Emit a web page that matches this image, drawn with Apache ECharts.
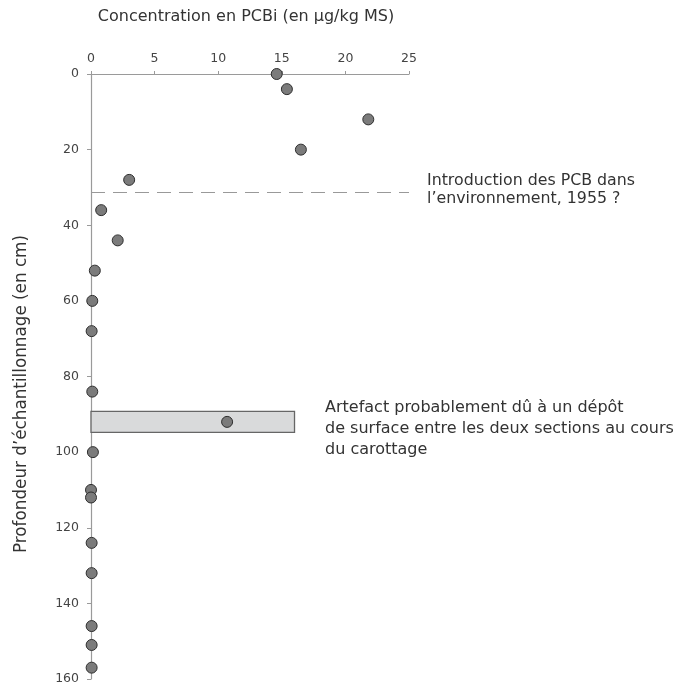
<!DOCTYPE html>
<html><head><meta charset="utf-8">
<script src="https://cdn.jsdelivr.net/npm/echarts@6/dist/echarts.min.js"></script>
<style>html,body{margin:0;padding:0;background:#fff}#c{width:683px;height:691px}</style>
</head><body><div id="c"></div>
<script>
const concentration = [14.6, 15.4, 21.8, 16.5, 3.0, 0.8, 2.1, 0.3, 0.1, 0.05, 0.1, 10.7, 0.15, 0.0, 0.0, 0.05, 0.05, 0.05, 0.05, 0.05];
const depth = [0, 4, 12, 20, 28, 36, 44, 52, 60, 68, 84, 92, 100, 110, 112, 124, 132, 146, 151, 157];
const xTicks = [0, 5, 10, 15, 20, 25];
const yTicks = [0, 20, 40, 60, 80, 100, 120, 140, 160];
const introDepth = 31.2;
const artefactBox = {x0: 0, x1: 16.0, y0: 89.2, y1: 94.8};
const xTitle = 'Concentration en PCBi (en µg/kg MS)';
const yTitle = 'Profondeur d\u2019échantillonnage (en cm)';
const note1 = ['Introduction des PCB dans', 'l\u2019environnement, 1955 ?'];
const note2 = ['Artefact probablement dû à un dépôt', 'de surface entre les deux sections au cours', 'du carottage'];

const FONT = 'DejaVu Sans';
const chart = echarts.init(document.getElementById('c'), null, {renderer: 'canvas'});
const points = concentration.map((v, i) => [v, depth[i]]);
chart.setOption({
  animation: false,
  textStyle: {fontFamily: FONT},
  grid: {left: 91, top: 74, right: 274, bottom: 12, containLabel: false},
  xAxis: {
    type: 'value', position: 'top', min: xTicks[0], max: xTicks[xTicks.length-1], interval: 5,
    axisLine: {show: true, lineStyle: {color: '#9a9a9a', width: 1.2}},
    axisTick: {show: true, inside: false, length: 3, lineStyle: {color: '#9a9a9a'}},
    axisLabel: {color: '#444', fontSize: 12.5, fontFamily: FONT, margin: 9},
    splitLine: {show: false}
  },
  yAxis: {
    type: 'value', inverse: true, min: yTicks[0], max: yTicks[yTicks.length-1], interval: 20,
    axisLine: {show: true, lineStyle: {color: '#9a9a9a', width: 1.2}},
    axisTick: {show: true, length: 4, lineStyle: {color: '#9a9a9a'}},
    axisLabel: {color: '#444', fontSize: 12.5, fontFamily: FONT, margin: 12},
    splitLine: {show: false}
  },
  series: [
    {
      type: 'scatter', data: [], silent: true,
      markArea: {
        silent: true,
        itemStyle: {color: '#d9dadb', borderColor: '#666', borderWidth: 1.3},
        label: {show: false},
        data: [[{coord: [artefactBox.x0, artefactBox.y0]}, {coord: [artefactBox.x1, artefactBox.y1]}]]
      },
      markLine: {
        silent: true, symbol: 'none',
        lineStyle: {color: '#999', type: [14, 8], width: 1},
        label: {show: false},
        data: [[{coord: [xTicks[0], introDepth]}, {coord: [xTicks[xTicks.length-1], introDepth]}]]
      }
    },
    {
      type: 'scatter', data: points, symbol: 'circle', symbolSize: 11, z: 5,
      itemStyle: {color: '#7b7b7b', borderColor: '#2e2e2e', borderWidth: 1, opacity: 1}
    }
  ],
  graphic: [
    {type: 'text', x: 246, y: 17, style: {text: xTitle, font: '16px ' + FONT, fill: '#333', align: 'center', verticalAlign: 'middle'}},
    {type: 'text', x: 22, y: 394, rotation: Math.PI / 2, style: {text: yTitle, font: '16.8px ' + FONT, fill: '#333', align: 'center', verticalAlign: 'middle'}},
    {type: 'text', left: 427, top: 172, style: {text: note1.join('\n'), font: '15.8px ' + FONT, fill: '#333', lineHeight: 18}},
    {type: 'text', left: 325, top: 397, style: {text: note2.join('\n'), font: '16px ' + FONT, fill: '#333', lineHeight: 21}}
  ]
});
</script></body></html>
